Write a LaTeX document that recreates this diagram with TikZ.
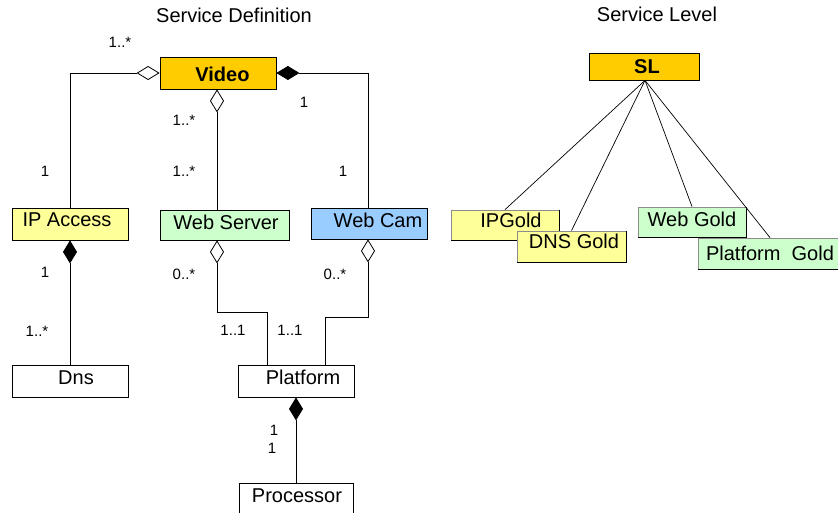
\documentclass[tikz,border=0pt]{standalone}
\usepackage{fontspec}
\setmainfont{Liberation Sans}
\usetikzlibrary{arrows.meta}
\definecolor{vorange}{HTML}{FFCC00}
\definecolor{vyellow}{HTML}{FFFF99}
\definecolor{vgreen}{HTML}{CCFFCC}
\definecolor{vblue}{HTML}{99CCFF}
% #1 = twice the horizontal offset, #2 = baseline below centre, #3 = text
\newcommand\bxt[3]{\smash{\raisebox{-#2pt}{\makebox[0pt]{\hspace*{#1pt}#3}}}}
\begin{document}
\begin{tikzpicture}[x=1pt,y=-1pt,
  box/.style={draw=black, line width=0.8pt, inner sep=0pt, font=\fontsize{20}{24}\selectfont},
  sbox/.style={draw=black!45, line width=0.8pt, inner sep=0pt, font=\fontsize{20}{24}\selectfont},
  lbl/.style={anchor=base, inner sep=0pt, font=\fontsize{15}{18}\selectfont},
  ttl/.style={anchor=base, inner sep=0pt, font=\fontsize{20}{24}\selectfont},
  conn/.style={draw=black, line width=0.8pt},
  agg/.style={arrows={Diamond[open,length=23pt,width=14pt]-}},
  comp/.style={arrows={Diamond[length=23pt,width=14pt]-}},
  sline/.style={draw=black, line width=0.7pt}]
\useasboundingbox (0,0) rectangle (838,512);
\clip (0,0) rectangle (838,512);

% titles
\node[ttl] (t1) at (234,22) {Service Definition};
\node[ttl] (t2) at (657,21) {Service Level};

% left boxes
\node[box, fill=vorange, minimum width=116pt, minimum height=32pt, font=\fontsize{20}{24}\selectfont\bfseries] (video) at (218,73) {\bxt{9}{8}{Video}};
\node[box, fill=vyellow, minimum width=116pt, minimum height=32pt] (ip) at (70,224) {\bxt{-6}{2}{IP Access}};
\node[box, fill=vgreen, minimum width=129pt, minimum height=30pt] (ws) at (224.5,225) {\bxt{3}{4}{Web Server}};
\node[box, fill=vblue, minimum width=116pt, minimum height=31pt] (wc) at (369,223.5) {\bxt{18}{3.5}{Web Cam}};
\node[box, fill=white, minimum width=116pt, minimum height=32pt] (dns) at (70,381) {\bxt{12}{3}{Dns}};
\node[box, fill=white, minimum width=116pt, minimum height=32pt] (pf) at (296,381) {\bxt{14}{3}{Platform}};
\node[box, fill=white, minimum width=114pt, minimum height=32pt] (proc) at (296,499) {\bxt{2}{3}{Processor}};

% connectors
\coordinate (k1) at (267,312);
\coordinate (k2) at (325,317);
\draw[conn,agg] (video.west) -| (ip.north);
\draw[conn,agg] ([xshift=-1pt]video.south) -- ([xshift=-7.5pt]ws.north);
\draw[conn,comp] (video.east) -| ([xshift=-1pt]wc.north);
\draw[conn,comp] (ip.south) -- (dns.north);
\draw[conn,agg] ([xshift=-7.5pt]ws.south) |- (k1) -- (k1 |- pf.north);
\draw[conn,agg] ([xshift=-1pt]wc.south) |- (k2) -- (k2 |- pf.north);
\draw[conn,comp] (pf.south) -- (proc.north);

% multiplicities
\node[lbl] (m1) at (120,47) {1..*};
\node[lbl] (m2) at (45,176) {1};
\node[lbl] (m3) at (184,125) {1..*};
\node[lbl] (m4) at (184,176) {1..*};
\node[lbl] (m5) at (304,107) {1};
\node[lbl] (m6) at (343,176) {1};
\node[lbl] (m7) at (45,277) {1};
\node[lbl] (m8) at (37,336) {1..*};
\node[lbl] (m9) at (184,279) {0..*};
\node[lbl] (m10) at (335,279) {0..*};
\node[lbl] (m11) at (233,335) {1..1};
\node[lbl] (m12) at (290,335) {1..1};
\node[lbl] (m13) at (274,435) {1};
\node[lbl] (m14) at (272,453) {1};

% right side
\node[box, fill=vorange, minimum width=110pt, minimum height=27pt, font=\fontsize{20}{24}\selectfont\bfseries] (sl) at (644,66.5) {\bxt{6}{6.5}{SL}};
\node[sbox, fill=vyellow, minimum width=108pt, minimum height=30pt] (ipg) at (505,225) {\bxt{12}{2}{IPGold}};
\draw[line width=0.8pt] (ipg.north east) -- (ipg.south east) -- (ipg.south west);
\node[sbox, fill=vyellow, minimum width=109pt, minimum height=31pt] (dnsg) at (571.5,246.5) {\bxt{5}{1.5}{DNS Gold}};
\draw[line width=0.8pt] (dnsg.north east) -- (dnsg.south east) -- (dnsg.south west);
\node[sbox, fill=vgreen, minimum width=108pt, minimum height=30pt] (wg) at (692,222) {\bxt{0}{4}{Web Gold}};
\draw[line width=0.8pt] (wg.north east) -- (wg.south east) -- (wg.south west);
\node[sbox, fill=vgreen, minimum width=144pt, minimum height=31pt] (pg) at (770,253.5) {\bxt{0}{6.5}{Platform\ \ Gold}};
\draw[line width=0.8pt] (pg.north east) -- (pg.south east) -- (pg.south west);

\draw[sline] ([xshift=1pt]sl.south) -- (ipg.north);
\draw[sline] ([xshift=1pt]sl.south) -- (dnsg.north);
\draw[sline] ([xshift=1pt]sl.south) -- (wg.north);
\draw[sline] ([xshift=1pt]sl.south) -- (pg.north);
\end{tikzpicture}
\end{document}
